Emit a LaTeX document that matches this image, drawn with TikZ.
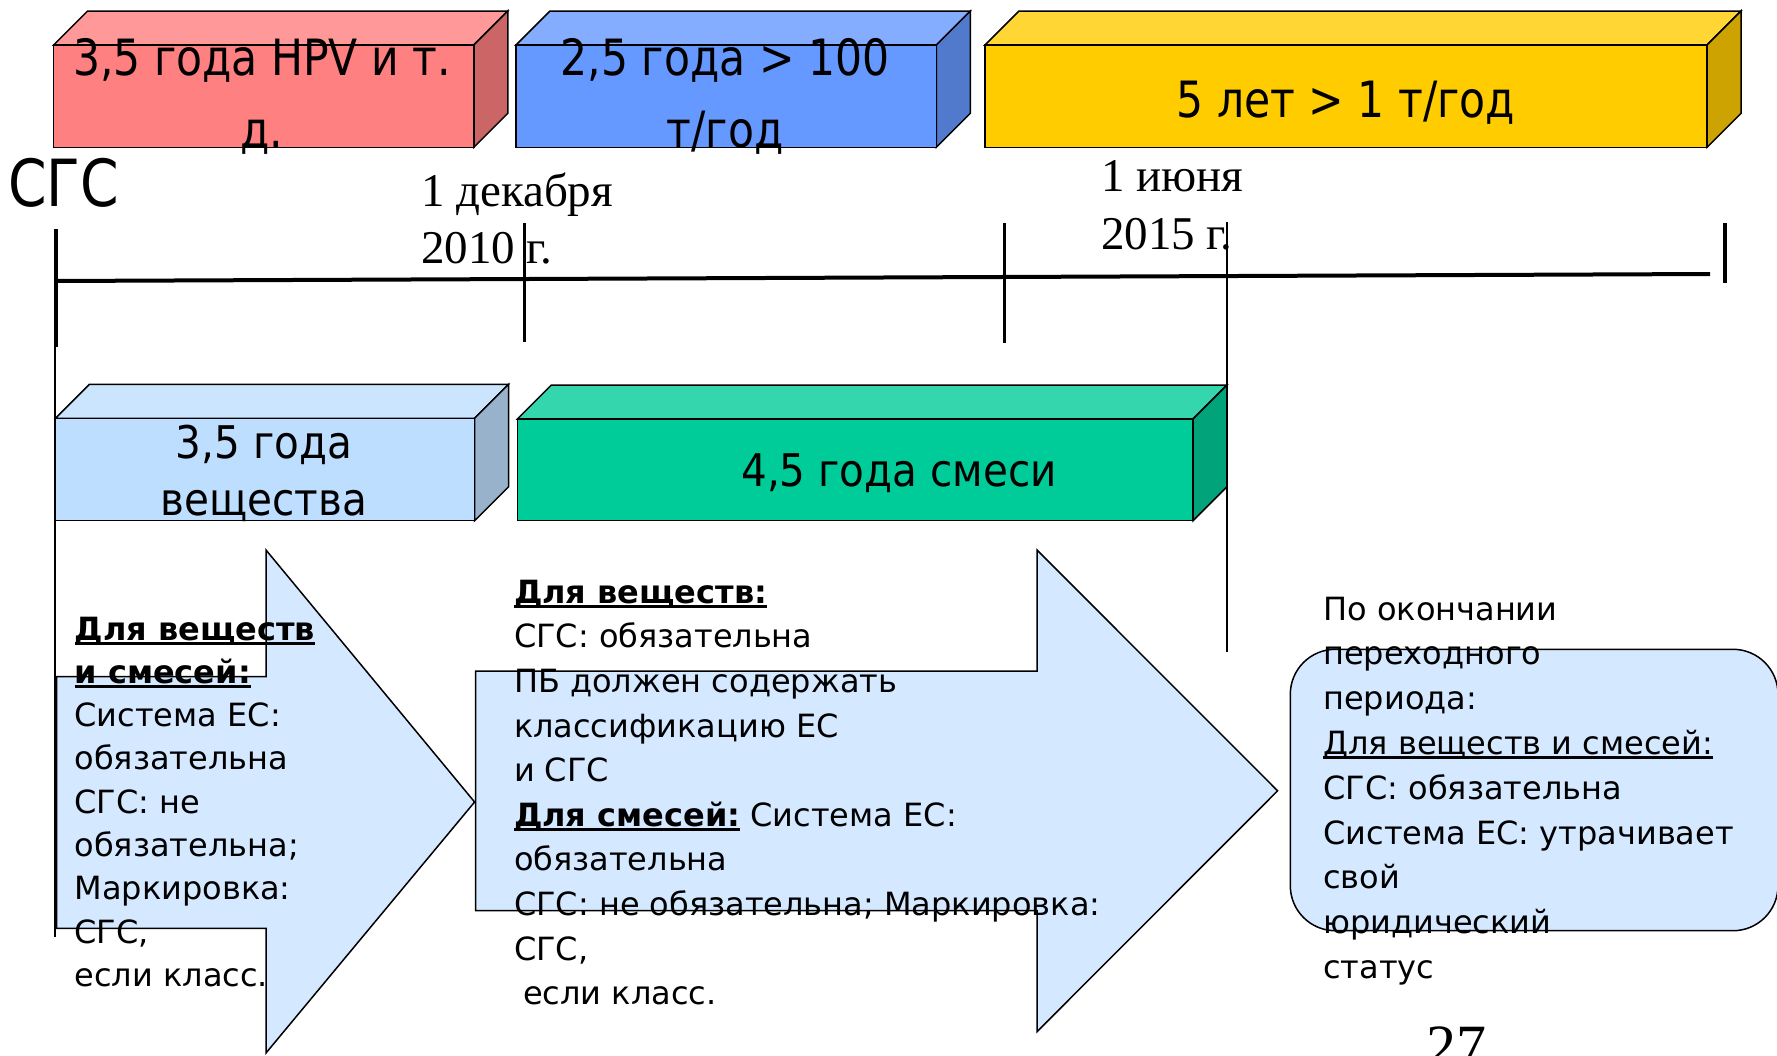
\documentclass[tikz,border=0pt]{standalone}
\usepackage{fontspec}
\setmainfont{DejaVu Sans}
\newfontfamily\boxfont[FakeStretch=0.85]{DejaVu Sans}
\newfontfamily\boxfontb[FakeStretch=0.9]{DejaVu Sans}
\newfontfamily\datefont{Liberation Serif}
\definecolor{redF}{HTML}{FF8080}\definecolor{redT}{HTML}{FF9999}\definecolor{redS}{HTML}{CC6666}
\definecolor{bluF}{HTML}{6699FF}\definecolor{bluT}{HTML}{85ADFF}\definecolor{bluS}{HTML}{527ACC}
\definecolor{yelF}{HTML}{FFCC00}\definecolor{yelT}{HTML}{FFD633}\definecolor{yelS}{HTML}{CCA300}
\definecolor{lbF}{HTML}{BDDEFF}\definecolor{lbT}{HTML}{CCE5FF}\definecolor{lbS}{HTML}{99B2CC}
\definecolor{grF}{HTML}{00CC99}\definecolor{grT}{HTML}{33D6AD}\definecolor{grS}{HTML}{00A37A}
\definecolor{arrF}{HTML}{D4E8FF}
\newcommand\ulx[1]{\setbox0=\hbox{#1}\rlap{\rule[-5pt]{\wd0}{3pt}}\box0\relax}
\newcommand\blk[2]{\vtop{\baselineskip=#1\lineskiplimit=-1000pt\relax #2}}
\newcommand\ctr[1]{\hbox to 0pt{\hss#1\hss}}
\newcommand\cuboid[7]{%
  \filldraw[boxline, fill=#6] (#1,#2) -- (#1+34,#2-34) -- (#3+34,#2-34) -- (#3,#2) -- cycle;
  \filldraw[boxline, fill=#7] (#3,#2) -- (#3+34,#2-34) -- (#3+34,#4-34) -- (#3,#4) -- cycle;
  \filldraw[boxline, fill=#5] (#1,#2) rectangle (#3,#4);
}
\tikzset{
  boxline/.style={draw=black, line width=1.5pt, line join=miter},
  arrowshape/.style={draw=black, line width=1.5pt, fill=arrF},
  txt/.style={inner sep=0pt, outer sep=0pt, anchor=base west, font=\fontsize{32}{44.5}\selectfont},
  bigtxt/.style={inner sep=0pt, outer sep=0pt, anchor=base, font=\boxfont\fontsize{50}{72}\selectfont},
  midtxt/.style={inner sep=0pt, outer sep=0pt, anchor=base, font=\boxfontb\fontsize{45}{57}\selectfont},
  datetxt/.style={inner sep=0pt, outer sep=0pt, anchor=base west, font=\datefont\fontsize{47}{57}\selectfont},
  tick/.style={line width=3pt},
}
\begin{document}
\begin{tikzpicture}[x=1pt,y=-1pt]
\useasboundingbox (0,0) rectangle (1777,1055);
\fill[white] (0,0) rectangle (1777,1055);

% top cuboids
\cuboid{53.6}{45}{473.8}{147.3}{redF}{redT}{redS}
\cuboid{516}{45}{936.3}{147.3}{bluF}{bluT}{bluS}
\cuboid{985}{45}{1707}{147.3}{yelF}{yelT}{yelS}
\node[bigtxt] (tred) at (262,75) {\blk{72pt}{\ctr{3,5 года HPV и т.}\ctr{д.}}};
\node[bigtxt] (tblue) at (725,75) {\blk{72pt}{\ctr{2,5 года > 100}\ctr{т/год}}};
\node[bigtxt] (tyel) at (1346,117) {5 лет > 1 т/год};

% label SGS
\node[inner sep=0pt, anchor=base west, font=\boxfont\fontsize{65}{70}\selectfont] (sgs) at (8,206.7) {СГС};

% dates
\node[datetxt] (dec) at (421,206.7) {\blk{56.6pt}{\hbox{1 декабря}\hbox{2010 г.}}};
\node[datetxt] (jun) at (1101,191.7) {\blk{57.6pt}{\hbox{1 июня}\hbox{2015 г.}}};

% timeline
\coordinate (tlL) at (55,281);
\coordinate (tlR) at (1710,274);
\draw[line width=4pt] (tlL) -- (tlR);
\coordinate (vL1) at (55,229); \coordinate (vL2) at (55,937);
\draw[line width=2pt] (vL1) -- (vL2);
\coordinate (k1a) at (56.6,229); \coordinate (k1b) at (56.6,347);
\draw[tick] (k1a) -- (k1b);
\coordinate (k2a) at (524.5,223); \coordinate (k2b) at (524.5,342);
\draw[tick] (k2a) -- (k2b);
\coordinate (k3a) at (1004.5,223); \coordinate (k3b) at (1004.5,343);
\draw[tick] (k3a) -- (k3b);
\coordinate (k5a) at (1725,223); \coordinate (k5b) at (1725,283);
\draw[line width=4pt] (k5a) -- (k5b);

% lower cuboids
\cuboid{55.5}{418.3}{474.6}{520.7}{lbF}{lbT}{lbS}
\cuboid{517.4}{419}{1193}{520.7}{grF}{grT}{grS}
\node[midtxt] (tlb) at (264,458.3) {\blk{57pt}{\ctr{3,5 года}\ctr{вещества}}};
\node[midtxt] (tgr) at (899,486.7) {4,5 года смеси};

% June line
\coordinate (k4a) at (1227,222); \coordinate (k4b) at (1227,652);
\draw[line width=2pt] (k4a) -- (k4b);

% arrows
\draw[arrowshape] (56.6,676.7) -- (266,676.7) -- (266,550) -- (474.6,802) -- (266,1053) -- (266,928.3) -- (56.6,928.3) -- cycle;
\draw[arrowshape] (475.5,671) -- (1037,671) -- (1037,550) -- (1277.6,790.8) -- (1037,1031.7) -- (1037,910.7) -- (475.5,910.7) -- cycle;
\draw[arrowshape, rounded corners=45pt] (1290.3,649.3) rectangle (1778,930.7);

% texts
\node[txt] (t1) at (74.6,640) {\blk{43.3pt}{%
  \hbox{\ulx{\bfseries Для веществ}}%
  \hbox{\ulx{\bfseries и смесей:}}%
  \hbox{Система ЕС:}%
  \hbox{обязательна}%
  \hbox{СГС: не}%
  \hbox{обязательна;}%
  \hbox{Маркировка:}%
  \hbox{СГС,}%
  \hbox{если класс.}}};
\node[txt] (t2) at (514,603.3) {\blk{44.6pt}{%
  \hbox{\ulx{\bfseries Для веществ:}}%
  \hbox{СГС: обязательна}%
  \hbox{ПБ должен содержать}%
  \hbox{классификацию ЕС}%
  \hbox{и СГС}%
  \hbox{\ulx{\bfseries Для смесей:}\ Система ЕС:}%
  \hbox{обязательна}%
  \hbox{СГС: не обязательна; Маркировка:}%
  \hbox{СГС,}%
  \hbox{\hspace{9pt}если класс.}}};
\node[txt] (t3) at (1323.3,620) {\blk{44.8pt}{%
  \hbox{По окончании}%
  \hbox{переходного}%
  \hbox{периода:}%
  \hbox{\ulx{Для веществ и смесей:}}%
  \hbox{СГС: обязательна}%
  \hbox{Система ЕС: утрачивает}%
  \hbox{свой}%
  \hbox{юридический}%
  \hbox{статус}}};

% page number
\node[inner sep=0pt, anchor=base west, font=\datefont\fontsize{60}{66}\selectfont] (pg) at (1426,1066) {27};
\end{tikzpicture}
\end{document}
